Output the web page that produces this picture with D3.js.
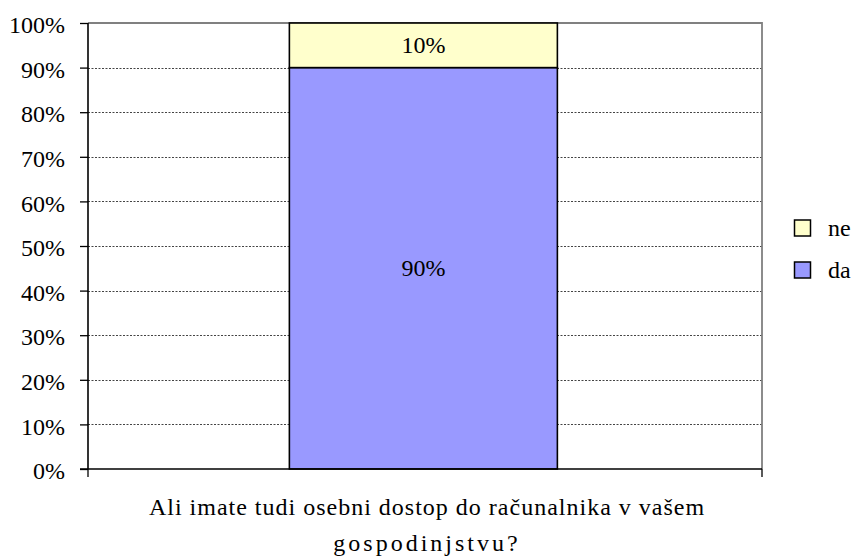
<!DOCTYPE html>
<html>
<head>
<meta charset="utf-8">
<script src="https://cdn.jsdelivr.net/npm/d3@7"></script>
<style>
  html, body { margin: 0; padding: 0; background: #fff; }
  svg { display: block; }
  text { font-family: "Liberation Serif", "Times New Roman", Times, serif; fill: #000; }
</style>
</head>
<body>
<svg id="chart" width="857" height="556"></svg>
<script>
const categories = ["Ali imate tudi osebni dostop do računalnika v vašem gospodinjstvu?"];
const categoryLines = ["Ali imate tudi osebni dostop do računalnika v vašem", "gospodinjstvu?"];
const seriesNames = ["da", "ne"];
const seriesColors = ["#9999FF", "#FFFFCC"];
const daValues = [0.90];
const neValues = [0.10];
const yTicks = [0, 0.1, 0.2, 0.3, 0.4, 0.5, 0.6, 0.7, 0.8, 0.9, 1.0];
const legendItems = ["ne", "da"];

(function () {
const svg = d3.select("#chart");
const pLeft = 88, pRight = 762, pTop = 23, pBottom = 469;
const FS = 24;

const x = d3.scaleBand().domain(categories).range([pLeft, pRight])
  .paddingInner(0.431).paddingOuter(0.431).align(0.496);
const y = d3.scaleLinear().domain([0, 1]).range([pBottom, pTop]);

// gridlines
svg.append("g").selectAll("line").data(yTicks.filter(d => d > 0 && d < 1)).join("line")
  .attr("x1", pLeft).attr("x2", pRight)
  .attr("y1", d => Math.round(y(d)) + 0.5).attr("y2", d => Math.round(y(d)) + 0.5)
  .attr("stroke", "#444").attr("stroke-width", 1).attr("stroke-dasharray", "2,1.5");

// plot border top/right
svg.append("path")
  .attr("d", `M${pLeft},${pTop}H${pRight}V${pBottom}`)
  .attr("fill", "none").attr("stroke", "#808080").attr("stroke-width", 1.8);

// stacked data
const rows = categories.map((c, i) => ({ cat: c, da: daValues[i], ne: neValues[i] }));
const stack = d3.stack().keys(seriesNames)(rows);

const g = svg.append("g");
stack.forEach((layer, li) => {
  g.selectAll(null).data(layer).join("rect")
    .attr("x", d => x(d.data.cat))
    .attr("width", x.bandwidth())
    .attr("y", d => y(d[1]))
    .attr("height", d => y(d[0]) - y(d[1]))
    .attr("fill", seriesColors[li])
    .attr("stroke", "#000").attr("stroke-width", 1.6);
});
stack.forEach((layer) => {
  g.selectAll(null).data(layer).join("text")
    .attr("x", d => x(d.data.cat) + x.bandwidth() / 2)
    .attr("y", d => (y(d[0]) + y(d[1])) / 2)
    .attr("dy", "0.34em")
    .attr("text-anchor", "middle")
    .attr("font-size", FS)
    .text(d => d3.format(".0%")(d[1] - d[0]));
});

// y axis
const yAxis = d3.axisLeft(y).tickValues(yTicks).tickFormat(d3.format(".0%")).tickSize(8).tickPadding(15);
const ya = svg.append("g").attr("transform", `translate(${pLeft},0)`).call(yAxis);
ya.attr("font-family", null);
ya.select(".domain").attr("stroke", "#000").attr("stroke-width", 1.6).attr("d", `M0,${pTop}V${pBottom}`);
ya.selectAll(".tick line").attr("stroke", "#000").attr("stroke-width", 1.3);
ya.selectAll(".tick text").attr("font-size", FS).attr("fill", "#000").attr("dy", "0.4em");

// x axis
const xa = svg.append("g").attr("transform", `translate(0,${pBottom})`);
xa.append("line").attr("x1", pLeft - 8).attr("x2", pRight).attr("stroke", "#000").attr("stroke-width", 1.6);
xa.selectAll(".xt").data([pLeft, pRight]).join("line").attr("class", "xt")
  .attr("x1", d => d).attr("x2", d => d).attr("y1", 0).attr("y2", 8)
  .attr("stroke", "#000").attr("stroke-width", 1.3);

// category label
const lab = svg.append("g").attr("text-anchor", "middle").attr("font-size", FS);
lab.selectAll("text").data(categoryLines).join("text")
  .attr("x", 427)
  .attr("y", (d, i) => i === 0 ? 515 : 551)
  .attr("letter-spacing", (d, i) => i === 0 ? "1px" : "3px")
  .text(d => d);

// legend
const lg = svg.append("g");
legendItems.forEach((name, i) => {
  const col = seriesColors[seriesNames.indexOf(name)];
  const cy = 228 + i * 42;
  lg.append("rect").attr("x", 794.5).attr("y", cy - 8).attr("width", 16).attr("height", 16)
    .attr("fill", col).attr("stroke", "#000").attr("stroke-width", 1.5);
  lg.append("text").attr("x", 828).attr("y", cy).attr("dy", "0.33em")
    .attr("font-size", FS).text(name);
});
})();
</script>
</body>
</html>
